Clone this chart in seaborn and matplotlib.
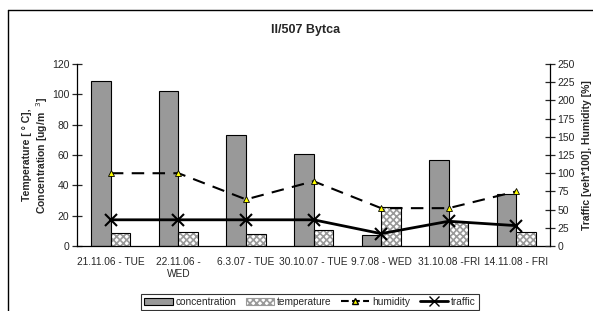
import pandas as pd
import matplotlib
matplotlib.use("Agg")
import matplotlib.pyplot as plt
import seaborn as sns
import numpy as np
from matplotlib.patches import Patch, Rectangle
from matplotlib.lines import Line2D

# data
dates = ["21.11.06 - TUE", "22.11.06 -\nWED", "6.3.07 - TUE", "30.10.07 - TUE",
         "9.7.08 - WED", "31.10.08 -FRI", "14.11.08 - FRI"]
concentration = [109, 102, 73, 61, 7, 57, 34]
temperature = [8.5, 9.5, 8, 10.5, 25.5, 16, 9]
humidity = [100, 100, 64, 89, 52, 52, 75]
traffic = [36, 36, 36, 36, 17, 34, 28]

sns.set_style("white")
plt.rcParams["font.family"] = ["Liberation Sans", "DejaVu Sans"]
plt.rcParams["hatch.linewidth"] = 1.2

fig = plt.figure(figsize=(5.93, 3.11), dpi=100)
ax = fig.add_axes([0.130, 0.209, 0.7975, 0.585])

bars = pd.DataFrame({
    "date": dates * 2,
    "value": concentration + temperature,
    "series": ["concentration"] * 7 + ["temperature"] * 7,
})
sns.barplot(data=bars, x="date", y="value", hue="series", ax=ax,
            palette=["#999999", "white"], width=0.58, edgecolor="black",
            linewidth=0.8, legend=False)

# hatched temperature bars: gray hatch + black outline on top
for p in ax.containers[1]:
    p.set_hatch("xxxxx")
    p.set_edgecolor("#9a9a9a")
    p.set_linewidth(0)
    ax.add_patch(Rectangle(p.get_xy(), p.get_width(), p.get_height(),
                           facecolor="none", edgecolor="black", lw=0.8, zorder=3))

ax.set_ylim(0, 120)
ax.set_yticks(np.arange(0, 121, 20))
ax.set_xlim(-0.5, 6.5)
ax.set_xticks(np.arange(-0.5, 7, 1))
ax.set_xticklabels([])
ax.set_xticks(np.arange(7), minor=True)
ax.set_xticklabels(dates, minor=True, fontsize=7.3)
ax.tick_params(axis="x", which="major", direction="inout", length=6, width=0.9)
ax.tick_params(axis="x", which="minor", length=0, pad=8)
ax.tick_params(axis="y", direction="inout", length=7, width=0.9, labelsize=7.5, pad=2)
ax.set_xlabel("")
ax.set_ylabel("Temperature [ ° C],\nConcentration [ug/m  $^{3}$]", fontsize=7.5,
              fontweight="bold")
ax.yaxis.set_label_coords(-0.057, 0.5)
for s in ["top", "right"]:
    ax.spines[s].set_visible(False)
for s in ["left", "bottom"]:
    ax.spines[s].set_color("black")
    ax.spines[s].set_linewidth(0.9)

ax2 = ax.twinx()
sns.pointplot(x=dates, y=humidity, ax=ax2, color="black", linestyles="--",
              markers="^", markersize=5, linewidth=1.5)
sns.pointplot(x=dates, y=traffic, ax=ax2, color="black", linestyles="-",
              markers="x", markersize=9, linewidth=2)
ax2.lines[0].set_markerfacecolor("#ffff00")
ax2.lines[0].set_markeredgewidth(0.6)
ax2.lines[0].set_dashes([6, 4])
ax2.set_ylim(0, 250)
ax2.set_yticks(np.arange(0, 251, 25))
ax2.set_xlim(-0.5, 6.5)
ax2.tick_params(axis="y", direction="inout", length=7, width=0.9, labelsize=7.5, pad=2)
ax2.tick_params(axis="x", length=0, labelbottom=False)
ax2.set_ylabel("Traffic [veh*100], Humidity [%]", fontsize=7.5, fontweight="bold")
ax2.yaxis.set_label_coords(1.068, 0.5)
for s in ["top", "left", "bottom"]:
    ax2.spines[s].set_visible(False)
ax2.spines["right"].set_color("black")
ax2.spines["right"].set_linewidth(0.9)

fig.text(0.516, 0.905, "II/507 Bytca", ha="center", va="center", fontsize=9,
         fontweight="bold")

# frame of the chart area
fig.add_artist(Line2D([8 / 593, 8 / 593], [0, 1 - 10 / 311], color="black", lw=1))
fig.add_artist(Line2D([8 / 593, 1], [1 - 10 / 311, 1 - 10 / 311], color="black", lw=1))

handles = [
    Patch(facecolor="#999999", edgecolor="black", lw=0.8),
    Patch(facecolor="white", edgecolor="#9a9a9a", hatch="xxxxx", lw=0.8),
    Line2D([], [], color="black", ls="--", marker="^", mfc="#ffff00", ms=5, lw=1.5),
    Line2D([], [], color="black", ls="-", marker="x", ms=7, lw=2),
]
leg = fig.legend(handles, ["concentration", "temperature", "humidity", "traffic"],
                 loc="upper center", bbox_to_anchor=(0.523, 1 - 294 / 311), ncol=4,
                 fontsize=7.3, frameon=True, fancybox=False, edgecolor="black",
                 handlelength=2.8, handletextpad=0.3, columnspacing=0.9,
                 borderpad=0.3, borderaxespad=0)
leg.get_frame().set_linewidth(0.8)

fig.savefig("out.png", dpi=100)
